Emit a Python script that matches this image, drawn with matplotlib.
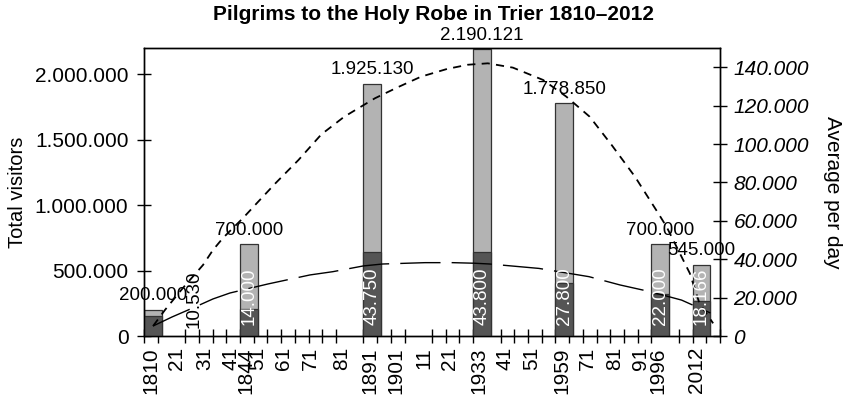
import matplotlib
matplotlib.use("Agg")
import matplotlib.pyplot as plt

plt.rcParams['font.family'] = ['Liberation Sans', 'DejaVu Sans']

# pilgrimage data
years = [1810, 1844, 1891, 1933, 1959, 1996, 2012]
total_visitors = [200000, 700000, 1925130, 2190121, 1778850, 700000, 545000]
avg_per_day = [10530, 14000, 43750, 43800, 27800, 22000, 18166]

# x axis tick labels (as printed on the chart)
tick_labels = ['1810', '21', '31', '41', '1844', '51', '61', '71', '81', '1891', '1901',
               '11', '21', '1933', '41', '51', '1959', '71', '81', '91', '1996', '2012']

# trend curves (x in axis slots)
trend_total_x = [0.66, 1.53, 2.84, 4.3, 5.03, 5.76, 7.22, 8.31, 9.58, 11.26, 12.93, 14.6,
                 16.84, 18.5, 20.2, 22.1, 23.6, 25.07, 26.9, 29.1, 30.8, 32.5, 34.1,
                 35.8, 37.5, 38.1, 39.8, 40.5, 41.5]
trend_total_y = [76000, 199000, 367000, 542000, 657000, 749000, 901000, 1024000, 1166000,
                 1344000, 1540000, 1675000, 1816000, 1900000, 1981000, 2040000, 2072000,
                 2083000, 2050000, 1956000, 1828000, 1675000, 1459000, 1217000, 937000,
                 835000, 479000, 250000, 97000]
trend_avg_x = [0.66, 2.04, 3.72, 5.03, 6.27, 9.04, 12.1, 13.77, 16.0, 17.4, 20.5, 22.5,
               24.1, 25.2, 28.8, 30.5, 32.45, 34.7, 36.9, 39.2, 41.3]
trend_avg_y = [5200, 9900, 15100, 19300, 22400, 27100, 31800, 33500, 36500, 37500, 38200,
               38200, 37900, 37500, 35200, 33200, 30900, 26600, 23100, 18700, 12000]

# layout (axis slots)
bar_slot = [0, 7, 16, 24, 30, 37, 40]
bar_w = 1.29
label_pos = [0.5, 2.4, 4.4, 6.35, 7.4, 8.3, 10.2, 12.15, 14.4, 16.5, 18.4, 20.4, 22.3,
             24.4, 26.3, 28.3, 30.5, 32.35, 34.3, 36.2, 37.5, 40.3]
mark_pos = [k for k in range(43) if k not in (2, 15, 20, 25, 38)]

light = '#b3b3b3'
dark = '#555555'


def fmt(v):
    return f"{v:,.0f}".replace(',', '.')


fig = plt.figure(figsize=(8.47, 4.01), dpi=100)
ax = fig.add_axes([144 / 847, 1 - 336 / 401, 576 / 847, 288 / 401])
ax2 = ax.twinx()

ax.bar(bar_slot, total_visitors, width=bar_w, align='edge', color=light,
       edgecolor='#333333', linewidth=0.9, zorder=2)
ax2.bar(bar_slot, avg_per_day, width=bar_w, align='edge', color=dark,
        edgecolor='#333333', linewidth=0.9, zorder=2)

for x, v in zip(bar_slot, total_visitors):
    ax.annotate(fmt(v), xy=(x + bar_w / 2, v), xytext=(0, 4), textcoords='offset points',
                ha='center', va='bottom', fontsize=13.5)

for i, (x, v) in enumerate(zip(bar_slot, avg_per_day)):
    if i == 0:
        ax2.annotate(fmt(v), xy=(x + bar_w / 2, 0), xytext=(29.5, 6),
                     textcoords='offset points', rotation=90, ha='center', va='bottom',
                     fontsize=13.5, color='black', zorder=4)
    else:
        ax2.annotate(fmt(v), xy=(x + bar_w / 2, 0), xytext=(0, 8),
                     textcoords='offset points', rotation=90, ha='center', va='bottom',
                     fontsize=13.5, color='white', zorder=4)

# trend lines
ax2.plot(trend_total_x, trend_total_y, color='black', lw=1.3,
         linestyle=(0, (4.5, 3.5)), transform=ax.transData, zorder=3)
ax2.plot(trend_avg_x, trend_avg_y, color='black', lw=1.0,
         linestyle=(0, (29, 8)), zorder=3)

ax.set_xlim(0, 42)
ax.set_ylim(0, 2200000)
ax2.set_ylim(0, 150000)

ax.set_yticks(range(0, 2000001, 500000), labels=[fmt(v) for v in range(0, 2000001, 500000)])
ax2.set_yticks(range(0, 140001, 20000), labels=[fmt(v) for v in range(0, 140001, 20000)],
               fontstyle='italic')

ax.set_xticks(label_pos, labels=tick_labels, rotation=90)
ax.set_xticks(mark_pos, minor=True)

ax.tick_params(axis='x', which='major', length=0, pad=8, labelsize=15)
ax.tick_params(axis='x', which='minor', direction='inout', length=9.5, width=1)
ax.tick_params(axis='y', direction='inout', length=9.5, width=1, pad=6.5, labelsize=15)
ax2.tick_params(axis='y', direction='inout', length=9.5, width=1, pad=5, labelsize=15)

for a in (ax, ax2):
    for s in a.spines.values():
        s.set_linewidth(1)

fig.text(433 / 847, 1 - 15 / 401, 'Pilgrims to the Holy Robe in Trier 1810\u20132012',
         ha='center', va='center', fontsize=15, fontweight='bold')
fig.text(17.5 / 847, 1 - 192 / 401, 'Total visitors', rotation=90,
         ha='center', va='center', fontsize=14.5)
fig.text(832 / 847, 1 - 192 / 401, 'Average per day', rotation=270,
         ha='center', va='center', fontsize=15)

fig.savefig('out.png', dpi=100)
